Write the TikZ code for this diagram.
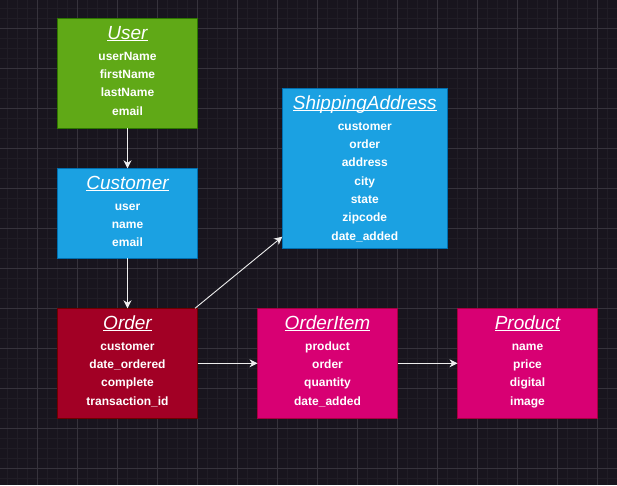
\documentclass[tikz,border=0pt]{standalone}
\usepackage{fontspec}
\setmainfont{Liberation Sans}
\usetikzlibrary{arrows.meta,calc}

\definecolor{bgdark}{HTML}{18151E}
\definecolor{gridminor}{HTML}{201D26}
\definecolor{gridmajor}{HTML}{36333C}
\definecolor{linkgray}{HTML}{EEEEEE}
\definecolor{usergreen}{HTML}{60A917}
\definecolor{usergreenline}{HTML}{2D7600}
\definecolor{custblue}{HTML}{1BA1E2}
\definecolor{custblueline}{HTML}{006EAF}
\definecolor{orderred}{HTML}{A20025}
\definecolor{orderredline}{HTML}{6F0000}
\definecolor{itempink}{HTML}{D80073}
\definecolor{itempinkline}{HTML}{A50040}

%% underlined title, rule just below the baseline
\newcommand{\ttl}[1]{\setbox0\hbox{#1}\rlap{\rule[-2pt]{\wd0}{0.9pt}}\box0}

\tikzset{
  entity/.style={draw, line width=1pt, anchor=north west, minimum width=140pt,
    minimum height=110pt, inner sep=0pt, outer sep=0pt},
  title/.style={text=white, font=\fontsize{19}{19}\selectfont\itshape, anchor=base, inner sep=0pt},
  field/.style={text=white, font=\fontsize{12}{12}\selectfont\bfseries, anchor=base, inner sep=0pt},
  link/.style={draw=linkgray, line width=0.9pt, -{Stealth[length=8pt,width=8pt,inset=2.5pt]}},
}

\begin{document}
\begin{tikzpicture}[x=1pt,y=-1pt]
        %% background and grid
        \fill[bgdark] (0,0) rectangle (617,485);
        \useasboundingbox (0,0) rectangle (617,485);
        \foreach \x in {7.5,17.5,...,617} \draw[gridminor,line width=0.8pt] (\x,0) -- (\x,485);
        \foreach \y in {8.3,18.3,...,485} \draw[gridminor,line width=0.8pt] (0,\y) -- (617,\y);
        \foreach \x in {37.5,77.5,...,617} \draw[gridmajor,line width=0.8pt] (\x,0) -- (\x,485);
        \foreach \y in {28.3,68.3,...,485} \draw[gridmajor,line width=0.8pt] (0,\y) -- (617,\y);

        %% User
        \node[entity, fill=usergreen, draw=usergreenline] (user) at (57.5,18.3) {};
        \node[title] (user-title) at ($(user.north)+(0,21)$) {\ttl{User}};
        \foreach \f [count=\i from 0] in {userName,firstName,lastName,email}
            \node[field] (user-f\i) at ($(user.north)+(0,42+18.33*\i)$) {\f};

        %% Customer
        \node[entity, fill=custblue, draw=custblueline, minimum height=90pt] (customer) at (57.5,168.3) {};
        \node[title] (customer-title) at ($(customer.north)+(0,21)$) {\ttl{Customer}};
        \foreach \f [count=\i from 0] in {user,name,email}
            \node[field] (customer-f\i) at ($(customer.north)+(0,42+18.33*\i)$) {\f};

        %% ShippingAddress
        \node[entity, fill=custblue, draw=custblueline, minimum width=165pt, minimum height=160pt] (shipping) at (282.3,88.3) {};
        \node[title] (shipping-title) at ($(shipping.north)+(0,21)$) {\ttl{ShippingAddress}};
        \foreach \f [count=\i from 0] in {customer,order,address,city,state,zipcode,date\_added}
            \node[field] (shipping-f\i) at ($(shipping.north)+(0,42+18.33*\i)$) {\f};

        %% Order
        \node[entity, fill=orderred, draw=orderredline] (order) at (57.5,308.3) {};
        \node[title] (order-title) at ($(order.north)+(0,21)$) {\ttl{Order}};
        \foreach \f [count=\i from 0] in {customer,date\_ordered,complete,transaction\_id}
            \node[field] (order-f\i) at ($(order.north)+(0,42+18.33*\i)$) {\f};

        %% OrderItem
        \node[entity, fill=itempink, draw=itempinkline] (orderitem) at (257.5,308.3) {};
        \node[title] (orderitem-title) at ($(orderitem.north)+(0,21)$) {\ttl{OrderItem}};
        \foreach \f [count=\i from 0] in {product,order,quantity,date\_added}
            \node[field] (orderitem-f\i) at ($(orderitem.north)+(0,42+18.33*\i)$) {\f};

        %% Product
        \node[entity, fill=itempink, draw=itempinkline] (product) at (457.5,308.3) {};
        \node[title] (product-title) at ($(product.north)+(0,21)$) {\ttl{Product}};
        \foreach \f [count=\i from 0] in {name,price,digital,image}
            \node[field] (product-f\i) at ($(product.north)+(0,42+18.33*\i)$) {\f};

        %% links
        \draw[link] (user.south) -- (customer.north);
        \draw[link] (customer.south) -- (order.north);
        \draw[link] ($(order.north east)+(-2.5,0)$) -- ($(shipping.south west)+(0,-11.6)$);
        \draw[link] (order.east) -- (orderitem.west);
        \draw[link] (orderitem.east) -- (product.west);
    \end{tikzpicture}
\end{document}
